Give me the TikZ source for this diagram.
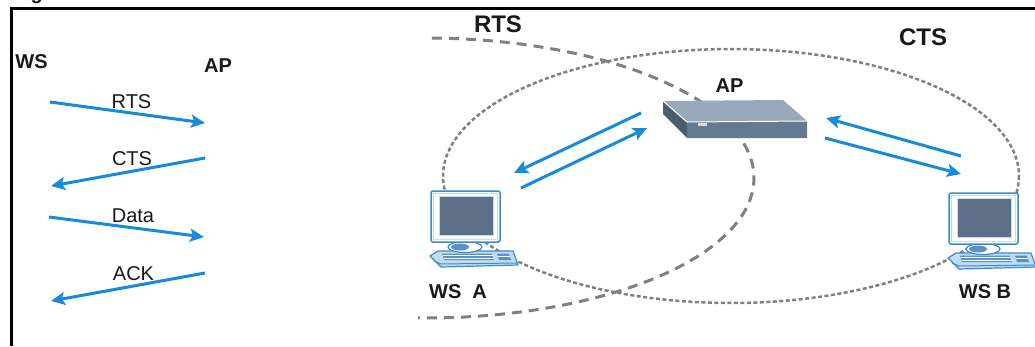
\documentclass[tikz,border=0pt]{standalone}
\usepackage{fontspec}
\setmainfont{Liberation Sans}
\usetikzlibrary{arrows.meta}

\definecolor{flow}{RGB}{22,138,220}
\definecolor{rangegray}{RGB}{128,128,128}
\definecolor{devtop}{RGB}{150,170,188}
\definecolor{devfront}{RGB}{100,122,144}
\definecolor{devside}{RGB}{74,92,110}
\definecolor{pcblue}{RGB}{58,140,206}
\definecolor{pckeys}{RGB}{88,146,200}
\definecolor{pcscreen}{RGB}{94,112,136}
\definecolor{pclight}{RGB}{196,220,242}
\definecolor{ink}{RGB}{25,25,25}

\tikzset{
  msg/.style={draw=flow, line width=3pt, -{Stealth[length=14pt,width=13pt,inset=3pt]}},
  lbl/.style={inner sep=0pt, anchor=base, text=ink, font=\fontsize{20}{20}\selectfont},
  blbl/.style={lbl, font=\bfseries\fontsize{20}{20}\selectfont},
  biglbl/.style={lbl, font=\bfseries\fontsize{24}{24}\selectfont},
  rtsrange/.style={draw=rangegray, line width=3pt, dash pattern=on 10pt off 7pt},
  ctsrange/.style={draw=rangegray, line width=2.5pt, dash pattern=on 4pt off 2.5pt},
  pics/workstation/.style={code={
    % keyboard
    \filldraw[fill=pclight, draw=pcblue, line width=1.2pt, line join=round]
      (-1,65) -- (7,60) -- (82,60) -- (87,74) -- (10,76) -- cycle;
    \draw[pcblue, line width=1pt] (3,70) -- (10,73) -- (86,72);
    \fill[pckeys] (11,62.5) -- (61,62.5) -- (63,69) -- (13,69) -- cycle;
    \fill[pckeys] (66,62.5) -- (78,62.5) -- (80,69) -- (68,69) -- cycle;
    \draw[white, line width=0.6pt] (12,64.7) -- (62,64.7) (12.5,66.8) -- (62.5,66.8)
      (67,65.7) -- (79,65.7);
    % stand
    \filldraw[fill=white, draw=pcblue, line width=1.2pt] (34,56) ellipse[x radius=17, y radius=5.5];
    \fill[pckeys] (29,56) ellipse[x radius=9, y radius=3.5];
    % monitor
    \filldraw[fill=white, draw=pcblue, line width=1.5pt, rounded corners=2pt] (0,0) rectangle (69,51);
    \draw[pclight, line width=1.2pt] (2.5,2.5) rectangle (66.5,48.5);
    \filldraw[fill=pcscreen, draw=pclight, line width=1pt] (8,5) rectangle (62,44);
  }},
}

\begin{document}
\begin{tikzpicture}[x=1pt, y=-1pt]
  \useasboundingbox (0,0) rectangle (1035,346);
  \fill[white] (0,0) rectangle (1035,346);

  % caption descender above the frame
  \begin{scope}
    \clip (0,0) rectangle (60,6);
    \node[anchor=base west, inner sep=0pt, text=ink, font=\bfseries\fontsize{20}{20}\selectfont] (cap) at (30.5,-1) {g};
  \end{scope}

  % frame
  \draw[black, line width=3pt] (11.5,346) -- (11.5,8.5) -- (1035,8.5);

  % ---- message sequence ----
  \node[blbl] (ws) at (31.5,68) {WS};
  \node[blbl] (apl) at (218,72) {AP};

  \coordinate (s1) at (50,102);  \coordinate (e1) at (205,123);
  \coordinate (s2) at (205,158); \coordinate (e2) at (51,186);
  \coordinate (s3) at (49,217);  \coordinate (e3) at (204,237);
  \coordinate (s4) at (205,273); \coordinate (e4) at (51,301);
  \draw[msg] (s1) -- (e1);
  \draw[msg] (s2) -- (e2);
  \draw[msg] (s3) -- (e3);
  \draw[msg] (s4) -- (e4);
  \node[lbl] (m1) at (131.5,108) {RTS};
  \node[lbl] (m2) at (132,165) {CTS};
  \node[lbl] (m3) at (133,222) {Data};
  \node[lbl] (m4) at (133.5,280) {ACK};

  % ---- ranges ----
  \draw[rtsrange] plot[smooth, samples=120, domain=-88.8:91.2]
    ({425+329*cos(\x)}, {178+140*sin(\x)});
  \draw[ctsrange] plot[smooth, samples=160, domain=0:360]
    ({731+288*cos(\x)}, {176+127*sin(\x)});
  \node[biglbl] (rts) at (498,32) {RTS};
  \node[biglbl] (cts) at (923,45) {CTS};

  % ---- transmissions ----
  \coordinate (a1s) at (641,113); \coordinate (a1e) at (514,173);
  \coordinate (a2s) at (521,188); \coordinate (a2e) at (647,128);
  \coordinate (a3s) at (961,156); \coordinate (a3e) at (826,118);
  \coordinate (a4s) at (825,138); \coordinate (a4e) at (961,174);
  \draw[msg] (a1s) -- (a1e);
  \draw[msg] (a2s) -- (a2e);
  \draw[msg] (a3s) -- (a3e);
  \draw[msg] (a4s) -- (a4e);

  % ---- access point ----
  \fill[devside] (663,101) -- (687,122) -- (687,138) -- (663,114) -- cycle;
  \fill[devtop] (663,101) -- (783,100) -- (807,121) -- (687,122) -- cycle;
  \fill[devfront] (687,122) -- (807,121) -- (807,138) -- (687,138) -- cycle;
  \draw[white, line width=1pt, line join=round] (663,101) -- (687,122) -- (807,121);
  \fill[black!15] (698,122.5) rectangle (707,125.5);
  \node[blbl] (ap) at (729.5,92) {AP};

  % ---- workstations ----
  \pic (wsa) at (431,191) {workstation};
  \pic (wsb) at (949,193) {workstation};
  \node[blbl] (la) at (458,298) {WS~~A};
  \node[blbl] (lb) at (985,298) {WS B};
\end{tikzpicture}
\end{document}
